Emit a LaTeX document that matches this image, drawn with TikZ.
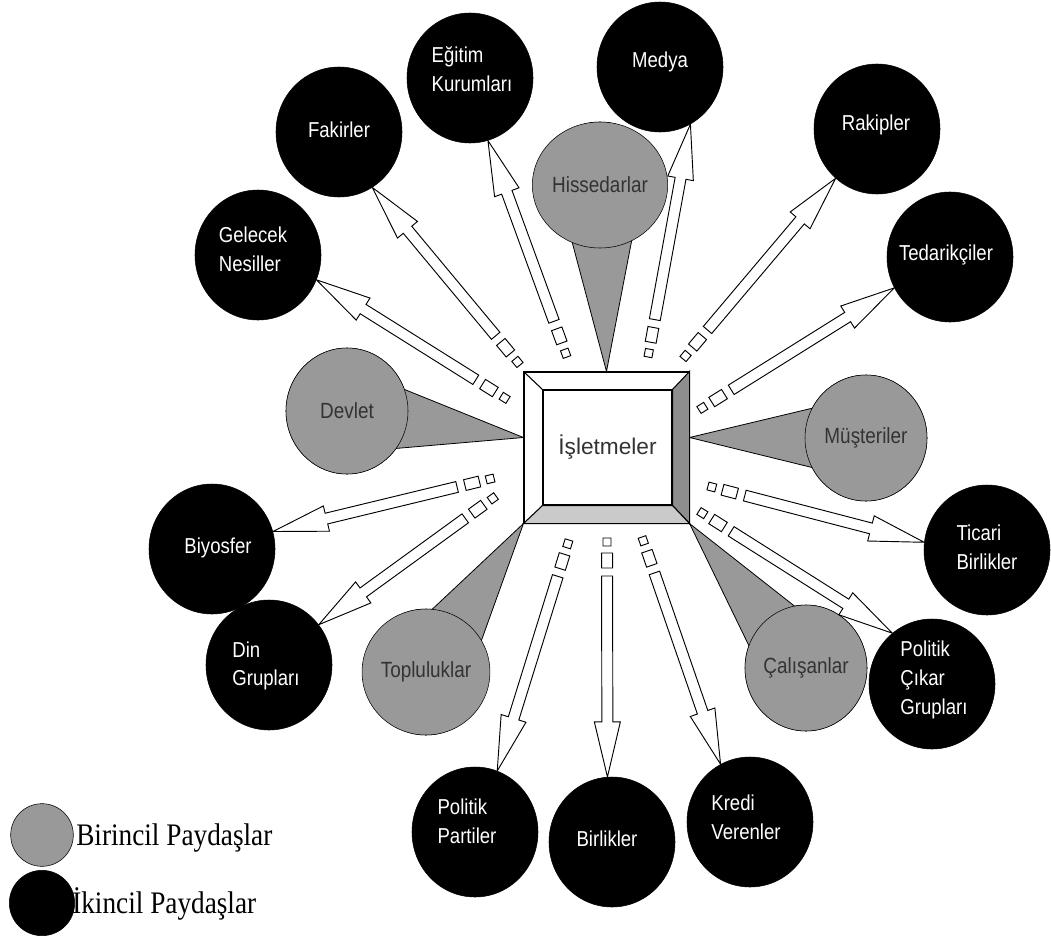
\documentclass[tikz,border=0pt]{standalone}
\usepackage{fontspec}
\usepackage{tikz}
\usetikzlibrary{calc,shapes.geometric}
\newfontfamily\lblfont[FakeStretch=0.86]{Liberation Sans}
\newfontfamily\boxfont{Liberation Sans}
\newfontfamily\legfont[FakeStretch=0.87]{Liberation Serif}
\definecolor{prigray}{RGB}{153,153,153}
\definecolor{bevdark}{RGB}{142,142,142}
\definecolor{bevlight}{RGB}{202,202,202}
\definecolor{darktext}{RGB}{51,51,51}

% hollow arrow with two stubs: #1 start coordinate, #2 tip
\newcommand\stake[2]{%
  \path let \p1=(#1), \p2=(#2), \n1={atan2(\y2-\y1,\x2-\x1)}, \n2={veclen(\x2-\x1,\y2-\y1)} in
    \pgfextra{\pgfmathsetmacro\stkang{\n1}\pgfmathsetmacro\stklen{\n2/0.75}%
      \global\let\stkang\stkang\global\let\stklen\stklen};
  \begin{scope}[shift={(#1)}, rotate=\stkang]
    \draw[stakeline] (0,-4) rectangle (8,4);
    \draw[stakeline] (15,-5.5) rectangle (30,5.5);
    \draw[stakeline] (38,-5.5) -- (\stklen-55,-5.5) -- (\stklen-55,-13) -- (\stklen,0)
      -- (\stklen-55,13) -- (\stklen-55,5.5) -- (38,5.5) -- cycle;
  \end{scope}}

\begin{document}
\begin{tikzpicture}[x=0.75pt,y=-0.75pt,
  secondary/.style={ellipse, draw=black, fill=black, inner sep=0pt, minimum width=94.5pt, minimum height=97.5pt},
  primary/.style={ellipse, draw=black, fill=prigray, inner sep=0pt, minimum width=91.5pt, minimum height=94.5pt,
    text=darktext, font=\lblfont\fontsize{16.5}{21.5}\selectfont},
  sectext/.style={text=white, align=left, inner sep=0pt, font=\lblfont\fontsize{16.2}{21.5}\selectfont},
  wedge/.style={draw=black, fill=prigray, line width=0.6pt},
  stakeline/.style={draw=black, fill=white, line width=0.7pt},
  bevel/.style={draw=black, line width=0.8pt}]
\useasboundingbox (0,0) rectangle (1051,939);

% Box
\node[draw=black, fill=white, line width=0.8pt, minimum width=123.75pt, minimum height=113.25pt] (frm) at (606.5,447.5) {};

% Primary stakeholders
\node[primary] (hiss) at (600,185) {};
\node[primary] (dev) at (347,411) {};
\node[primary] (mus) at (866,438) {};
\node[primary] (top) at (426,672) {};
\node[primary] (cal) at (806,668) {};
\filldraw[wedge] (frm.north) -- ($(hiss.center)!32pt!90:(frm.north)$) -- ($(hiss.center)!32pt!-90:(frm.north)$) -- cycle;
\filldraw[wedge] ([yshift=7.5pt]frm.west) -- ($(dev.center)!32pt!90:([yshift=7.5pt]frm.west)$) -- ($(dev.center)!32pt!-90:([yshift=7.5pt]frm.west)$) -- cycle;
\filldraw[wedge] ([yshift=7.5pt]frm.east) -- ($(mus.center)!32pt!90:([yshift=7.5pt]frm.east)$) -- ($(mus.center)!32pt!-90:([yshift=7.5pt]frm.east)$) -- cycle;
\filldraw[wedge] (frm.south west) -- ($(top.center)!32pt!90:(frm.south west)$) -- ($(top.center)!32pt!-90:(frm.south west)$) -- cycle;
\filldraw[wedge] (frm.south east) -- ($(cal.center)!32pt!90:(frm.south east)$) -- ($(cal.center)!32pt!-90:(frm.south east)$) -- cycle;
\node[primary] at (hiss) {Hissedarlar};
\node[primary] at (dev) {Devlet};
\node[primary] at (mus) {Müşteriler};
\node[primary] at (top) {Topluluklar};
\node[primary] at (cal) {Çalışanlar};

% Box bevels
\node[draw=black, fill=white, line width=0.8pt, minimum width=96.75pt, minimum height=86.25pt,
  text=darktext, font=\boxfont\fontsize{17}{20}\selectfont] (isl) at (607.5,447.5) {İşletmeler};
\filldraw[bevel, fill=bevdark] (frm.north east) -- (frm.south east) -- (isl.south east) -- (isl.north east) -- cycle;
\filldraw[bevel, fill=bevlight] (frm.south west) -- (frm.south east) -- (isl.south east) -- (isl.south west) -- cycle;
\draw[bevel] (frm.north west) -- (isl.north west);

% Secondary stakeholders
\node[secondary] (egt) at (470,78) {};
\node[secondary] (med) at (660,67) {};
\node[secondary] (rak) at (877,129) {};
\node[secondary] (ted) at (950,257) {};
\node[secondary] (fak) at (339,132) {};
\node[secondary] (gel) at (258,255) {};
\node[secondary] (biy) at (212,549) {};
\node[secondary] (din) at (269,665) {};
\node[secondary] (tic) at (987,550) {};
\node[secondary] (pcg) at (932,684) {};
\node[secondary] (ppa) at (475,832) {};
\node[secondary] (bir) at (612,842) {};
\node[secondary] (kre) at (750,822) {};

% Text Node
\node[sectext] (egt-t) at (472,69) {Eğitim\\Kurumları};
\node[sectext] (med-t) at (660,62) {Medya};
\node[sectext] (rak-t) at (876,125) {Rakipler};
\node[sectext] (ted-t) at (946,255) {Tedarikçiler};
\node[sectext] (fak-t) at (339,130) {Fakirler};
\node[sectext] (gel-t) at (253,249) {Gelecek\\Nesiller};
\node[sectext] (biy-t) at (218,548) {Biyosfer};
\node[sectext] (din-t) at (266,666) {Din\\Grupları};
\node[sectext] (tic-t) at (987,547) {Ticari\\Birlikler};
\node[sectext] (pcg-t) at (934,680) {Politik\\Çıkar\\Grupları};
\node[sectext] (ppa-t) at (467,821) {Politik\\Partiler};
\node[sectext] (bir-t) at (607,839) {Birlikler};
\node[sectext] (kre-t) at (746,817) {Kredi\\Verenler};

% Arrow starts
\coordinate (s-egt) at (567,357);
\coordinate (s-med) at (648,357);
\coordinate (s-rak) at (683,359);
\coordinate (s-ted) at (699,410);
\coordinate (s-fak) at (520,365);
\coordinate (s-gel) at (508,400);
\coordinate (s-biy) at (494,478);
\coordinate (s-din) at (496,496);
\coordinate (s-tic) at (708,486);
\coordinate (s-pcg) at (699,511);
\coordinate (s-ppa) at (569,540);
\coordinate (s-bir) at (607,538);
\coordinate (s-kre) at (642,537);

\stake{s-egt}{egt.-74}
\stake{s-med}{med.-62}
\stake{s-rak}{rak.-130}
\stake{s-ted}{ted.-151}
\stake{s-fak}{fak.-59}
\stake{s-gel}{gel.-23}
\stake{s-biy}{biy.16}
\stake{s-din}{din.39}
\stake{s-tic}{tic.173}
\stake{s-pcg}{pcg.128}
\stake{s-ppa}{ppa.70}
\stake{s-bir}{bir.94}
\stake{s-kre}{kre.117}

% Legend
\node[circle, draw=black, fill=prigray, minimum size=47pt, inner sep=0pt] (lg1) at (42,835) {};
\node[circle, draw=black, fill=black, minimum size=49pt, inner sep=0pt] (lg2) at (42,903) {};
\node[anchor=base west, inner sep=0pt, font=\legfont\fontsize{23.5}{26}\selectfont] (lg1-t) at (76,845) {Birincil Paydaşlar};
\node[anchor=base west, inner sep=0pt, font=\legfont\fontsize{23.5}{26}\selectfont] (lg2-t) at (72,913) {İkincil Paydaşlar};

\end{tikzpicture}
\end{document}
